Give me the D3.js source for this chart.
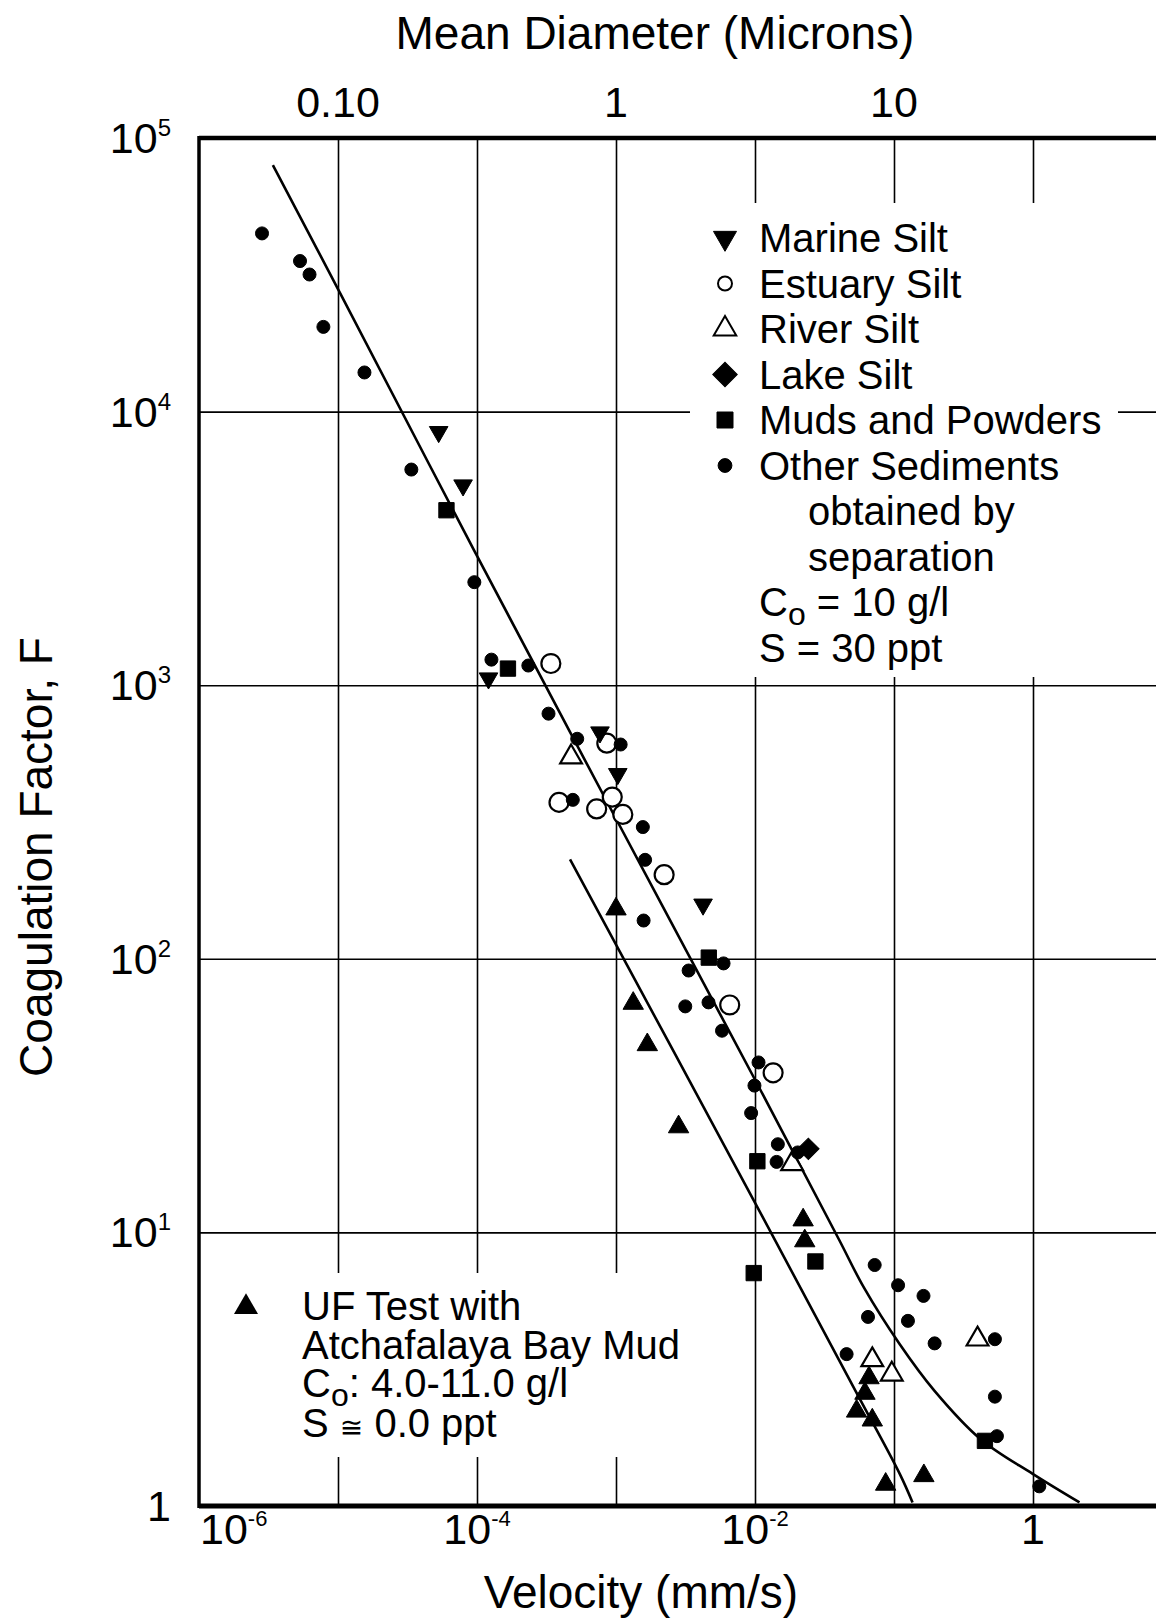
<!DOCTYPE html>
<html>
<head>
<meta charset="utf-8">
<title>Coagulation Factor vs Velocity</title>
<script src="https://cdn.jsdelivr.net/npm/d3@7"></script>
<style>
  body { margin: 0; background: #fff; }
  svg text { font-family: "Liberation Sans", Arial, sans-serif; fill: #000; }
</style>
</head>
<body>
<svg id="chart" width="1156" height="1619"></svg>
<script>
// points are [velocity (mm/s), coagulation factor F]
var marineSilt = [[5.30e-5, 8430], [7.94e-5, 5380], [1.21e-4, 1060], [7.67e-4, 673], [1.03e-3, 474], [4.23e-3, 158]];
var estuarySilt = [[3.40e-4, 1200], [8.59e-4, 614], [3.89e-4, 373], [7.26e-4, 353], [9.40e-4, 390], [1.12e-3, 337],
  [2.22e-3, 203], [6.58e-3, 67.8], [1.35e-2, 38.3]];
var riverSilt = [[4.75e-4, 546], [1.85e-2, 17.8], [0.0698, 3.42], [0.0964, 3.03], [0.399, 4.07]];
var lakeSilt = [[2.42e-2, 20.2]];
var mudsPowders = [[6.03e-5, 4360], [1.67e-4, 1150], [4.65e-3, 101], [1.04e-2, 18.2], [2.72e-2, 7.83],
  [9.79e-3, 7.10], [0.451, 1.73]];
var otherSediments = [[2.84e-6, 44800], [5.33e-6, 35500], [6.24e-6, 31700], [7.85e-6, 20400], [1.55e-5, 13900],
  [3.37e-5, 6140], [9.57e-5, 2380], [1.27e-4, 1240], [2.34e-4, 1180], [3.27e-4, 787], [5.26e-4, 637],
  [1.08e-3, 607], [4.89e-4, 381], [1.56e-3, 303], [1.62e-3, 230], [1.58e-3, 138], [5.94e-3, 96.2],
  [3.33e-3, 90.6], [3.15e-3, 67.0], [4.63e-3, 69.3], [5.79e-3, 54.6], [1.06e-2, 41.8], [9.91e-3, 34.4],
  [9.38e-3, 27.3], [1.46e-2, 21.0], [1.43e-2, 18.1], [2.03e-2, 19.6], [7.26e-2, 7.60], [0.107, 6.41],
  [0.163, 5.86], [0.0650, 4.91], [0.126, 4.75], [0.196, 3.93], [0.532, 4.07], [0.0456, 3.59],
  [0.532, 2.51], [0.550, 1.80], [1.11, 1.18]];
var ufTest = [[1.00e-3, 152], [1.33e-3, 68.7], [1.68e-3, 48.5], [2.82e-3, 24.3], [2.22e-2, 11.1], [2.28e-2, 9.31],
  [0.0661, 2.94], [0.0618, 2.58], [0.0538, 2.22], [0.0698, 2.06], [0.0871, 1.20], [0.164, 1.29]];

// fitted curves
var upperFit = [[3.40e-6, 79600], [1.04e-5, 27000], [9.53e-5, 3110], [9.57e-4, 339], [9.79e-3, 36.9],
  [0.0401, 9.44], [0.0608, 6.28], [0.110, 3.90], [0.195, 2.64], [0.422, 1.75], [0.995, 1.31], [2.16, 1.03]];
var lowerFit = [[4.67e-4, 231], [9.79e-3, 13.1], [0.0545, 2.56], [0.110, 1.31], [0.136, 1.03]];

var xTicks = [1e-6, 1e-4, 1e-2, 1];
var xTickBase = ["10", "10", "10", "1"];
var xTickExp = ["-6", "-4", "-2", ""];
var yTicks = [1, 10, 100, 1000, 10000, 100000];
var yTickBase = ["1", "10", "10", "10", "10", "10"];
var yTickExp = ["", "1", "2", "3", "4", "5"];
var topTicks = [0.1, 1, 10];
var topTickLabels = ["0.10", "1", "10"];
var gridV = [1e-5, 1e-4, 1e-3, 1e-2, 1e-1, 1];
var gridH = [10, 100, 1000, 10000];

var legendNames = ["Marine Silt", "Estuary Silt", "River Silt", "Lake Silt", "Muds and Powders", "Other Sediments"];

// scales
var x = d3.scaleLog().domain([1e-6, 10]).range([199, 199 + 7 * 139]);
// diameter axis: v = 1e-3 * d^2
var xTop = d3.scaleLog().domain([Math.sqrt(1e-3), Math.sqrt(1e4)]).range(x.range());
var y = d3.scaleLog().domain([1, 1e5]).range([1506, 138]);

var svg = d3.select("#chart");
svg.append("rect").attr("width", 1156).attr("height", 1619).attr("fill", "#fff");

var plotH = y(1) - y(1e5);

// grid
var gx = svg.append("g").attr("transform", "translate(0," + y(1) + ")")
  .call(d3.axisBottom(x).tickValues(gridV).tickSize(-plotH).tickFormat(""));
gx.select(".domain").remove();
gx.selectAll("line").attr("stroke", "#000").attr("stroke-width", 1.6);

var gy = svg.append("g").attr("transform", "translate(" + x(1e-6) + ",0)")
  .call(d3.axisLeft(y).tickValues(gridH).tickSize(-(1160 - x(1e-6))).tickFormat(""));
gy.select(".domain").remove();
gy.selectAll("line").attr("stroke", "#000").attr("stroke-width", 1.6);

// white legend backgrounds hide the grid
svg.append("rect").attr("x", 690).attr("y", 203).attr("width", 428).attr("height", 474).attr("fill", "#fff");
svg.append("rect").attr("x", 212).attr("y", 1273).attr("width", 490).attr("height", 184).attr("fill", "#fff");

// fit lines
var line = d3.line().x(function(d) { return x(d[0]); }).y(function(d) { return y(d[1]); })
  .curve(d3.curveCatmullRom.alpha(0.5));
[upperFit, lowerFit].forEach(function(f) {
  svg.append("path").attr("d", line(f)).attr("fill", "none").attr("stroke", "#000").attr("stroke-width", 2.6);
});

// markers
function sym(type, size) { return d3.symbol().type(type).size(size)(); }
var shapes = {
  marine: { d: sym(d3.symbolTriangle, 150), rot: 180, fill: "#000" },
  estuary: { d: sym(d3.symbolCircle, Math.PI * 90), rot: 0, fill: "#fff" },
  river: { d: sym(d3.symbolTriangle, 205), rot: 0, fill: "#fff" },
  lake: { d: sym(d3.symbolSquare, 230), rot: 45, fill: "#000" },
  muds: { d: sym(d3.symbolSquare, 235), rot: 0, fill: "#000" },
  other: { d: sym(d3.symbolCircle, 133), rot: 0, fill: "#000" },
  uf: { d: sym(d3.symbolTriangle, 180), rot: 0, fill: "#000" }
};

function drawSeries(data, s) {
  svg.append("g").selectAll("path").data(data).enter().append("path")
    .attr("d", s.d)
    .attr("transform", function(d) { return "translate(" + x(d[0]) + "," + y(d[1]) + ") rotate(" + s.rot + ")"; })
    .attr("fill", s.fill)
    .attr("stroke", "#000")
    .attr("stroke-width", s.fill === "#fff" ? 2.2 : 1);
}
drawSeries(estuarySilt, shapes.estuary);
drawSeries(riverSilt, shapes.river);
drawSeries(otherSediments, shapes.other);
drawSeries(mudsPowders, shapes.muds);
drawSeries(marineSilt, shapes.marine);
drawSeries(lakeSilt, shapes.lake);
drawSeries(ufTest, shapes.uf);

// frame
svg.append("line").attr("x1", x(1e-6)).attr("x2", 1160).attr("y1", y(1e5)).attr("y2", y(1e5))
  .attr("stroke", "#000").attr("stroke-width", 4.5);
svg.append("line").attr("x1", x(1e-6)).attr("x2", 1160).attr("y1", y(1)).attr("y2", y(1))
  .attr("stroke", "#000").attr("stroke-width", 5);
svg.append("line").attr("x1", x(1e-6)).attr("x2", x(1e-6)).attr("y1", y(1e5) - 2).attr("y2", y(1) + 2)
  .attr("stroke", "#000").attr("stroke-width", 3.5);

// bottom tick labels
svg.append("g").selectAll("text").data(xTicks).enter().append("text")
  .attr("x", function(d, i) { return i === 0 ? x(d) + 1 : x(d); })
  .attr("y", 1544)
  .attr("text-anchor", function(d, i) { return i === 0 ? "start" : "middle"; })
  .attr("font-size", 43)
  .each(function(d, i) {
    var t = d3.select(this);
    t.append("tspan").text(xTickBase[i]);
    if (xTickExp[i]) t.append("tspan").attr("font-size", 22).attr("dy", -18).text(xTickExp[i]);
  });

// left tick labels
svg.append("g").selectAll("text").data(yTicks).enter().append("text")
  .attr("x", 171)
  .attr("y", function(d) { return y(d) + 15; })
  .attr("text-anchor", "end")
  .attr("font-size", 43)
  .each(function(d, i) {
    var t = d3.select(this);
    t.append("tspan").text(yTickBase[i]);
    if (yTickExp[i]) t.append("tspan").attr("font-size", 24).attr("dy", -17).text(yTickExp[i]);
  });

// top tick labels (diameter)
svg.append("g").selectAll("text").data(topTicks).enter().append("text")
  .attr("x", function(d) { return xTop(d); })
  .attr("y", 117)
  .attr("text-anchor", "middle")
  .attr("font-size", 43)
  .text(function(d, i) { return topTickLabels[i]; });

// axis titles
svg.append("text").attr("x", 655).attr("y", 49).attr("text-anchor", "middle").attr("font-size", 46)
  .text("Mean Diameter (Microns)");
svg.append("text").attr("x", 641).attr("y", 1608).attr("text-anchor", "middle").attr("font-size", 46)
  .text("Velocity (mm/s)");
svg.append("text").attr("transform", "translate(52,857) rotate(-90)").attr("text-anchor", "middle")
  .attr("font-size", 46).text("Coagulation Factor, F");

// top-right legend
var legKeys = ["marine", "estuary", "river", "lake", "muds", "other"];
var legSym = { marine: sym(d3.symbolTriangle, 230), estuary: sym(d3.symbolCircle, Math.PI * 49),
  river: sym(d3.symbolTriangle, 220), lake: sym(d3.symbolSquare, 300),
  muds: sym(d3.symbolSquare, 256), other: sym(d3.symbolCircle, 150) };
var rowH = 45.5, row0 = 252;
legKeys.forEach(function(k, i) {
  svg.append("path").attr("d", legSym[k])
    .attr("transform", "translate(725," + (row0 + i * rowH - 14) + ") rotate(" + shapes[k].rot + ")")
    .attr("fill", shapes[k].fill).attr("stroke", "#000").attr("stroke-width", shapes[k].fill === "#fff" ? 2 : 1);
  svg.append("text").attr("x", 759).attr("y", row0 + i * rowH).attr("font-size", 40).text(legendNames[i]);
});
svg.append("text").attr("x", 808).attr("y", row0 + 6 * rowH).attr("font-size", 40).text("obtained by");
svg.append("text").attr("x", 808).attr("y", row0 + 7 * rowH).attr("font-size", 40).text("separation");
var co = svg.append("text").attr("x", 759).attr("y", row0 + 8 * rowH).attr("font-size", 40);
co.append("tspan").text("C");
co.append("tspan").attr("font-size", 32).attr("dy", 9).text("o");
co.append("tspan").attr("dy", -9).text(" = 10 g/l");
svg.append("text").attr("x", 759).attr("y", row0 + 9 * rowH).attr("font-size", 40).text("S = 30 ppt");

// bottom-left legend
svg.append("path").attr("d", sym(d3.symbolTriangle, 250)).attr("transform", "translate(246,1307)").attr("fill", "#000");
var bl = [1320, 1359, 1397, 1437];
svg.append("text").attr("x", 302).attr("y", bl[0]).attr("font-size", 40).text("UF Test with");
svg.append("text").attr("x", 302).attr("y", bl[1]).attr("font-size", 40).text("Atchafalaya Bay Mud");
var co2 = svg.append("text").attr("x", 302).attr("y", bl[2]).attr("font-size", 40);
co2.append("tspan").text("C");
co2.append("tspan").attr("font-size", 32).attr("dy", 9).text("o");
co2.append("tspan").attr("dy", -9).text(": 4.0-11.0 g/l");
var s2 = svg.append("text").attr("x", 302).attr("y", bl[3]).attr("font-size", 40);
s2.append("tspan").text("S ");
s2.append("tspan").attr("font-size", 28).attr("font-family", "DejaVu Sans").text("\u2245");
s2.append("tspan").text(" 0.0 ppt");
</script>
</body>
</html>
